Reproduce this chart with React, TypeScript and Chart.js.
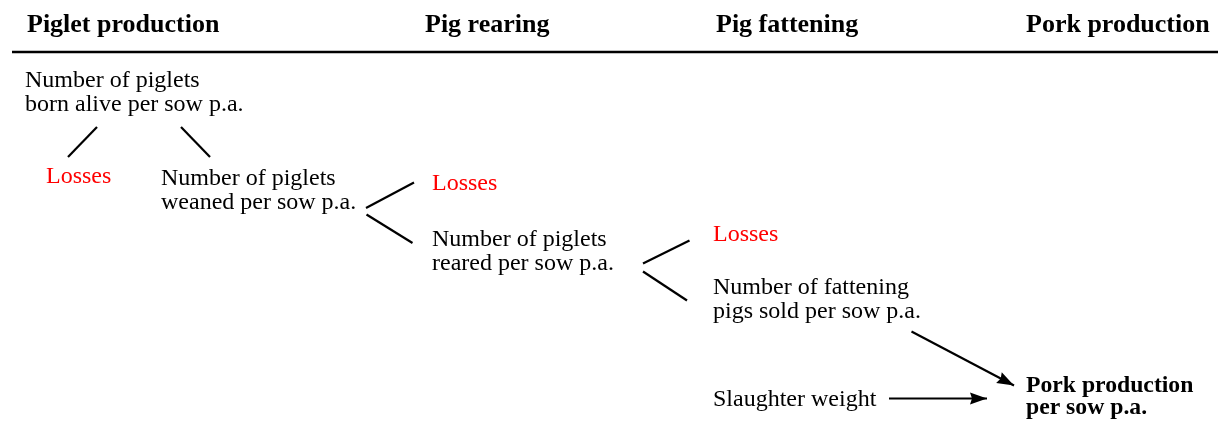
import React, { useEffect, useRef } from "react";
import { Chart, registerables } from "chart.js";

Chart.register(...registerables);

// ---- diagram data (in diagram units: x 0..1218, y 0..421 top-down) ----
const stageHeaders = ["Piglet production", "Pig rearing", "Pig fattening", "Pork production"];
const stageHeaderX = [27, 425, 716, 1026];
const stageHeaderY = 32;

const nodeTexts: string[][] = [
  ["Number of piglets", "born alive per sow p.a."],
  ["Losses"],
  ["Number of piglets", "weaned per sow p.a."],
  ["Losses"],
  ["Number of piglets", "reared per sow p.a."],
  ["Losses"],
  ["Number of fattening", "pigs sold per sow p.a."],
  ["Slaughter weight"],
  ["Pork production", "per sow p.a."],
];
const nodeKinds = ["count", "loss", "count", "loss", "count", "loss", "count", "count", "result"];
const nodeX = [25, 46, 161, 432, 432, 713, 713, 713, 1026];
const nodeY = [87, 183, 185, 190, 246, 241, 294, 406, 392];

const ruleLine = [{ x: 12, y: 52 }, { x: 1218, y: 52 }];
const branchLines = [
  [{ x: 97, y: 127 }, { x: 68, y: 157 }],
  [{ x: 181, y: 127 }, { x: 210, y: 157 }],
  [{ x: 366, y: 208 }, { x: 414, y: 182.5 }],
  [{ x: 366.5, y: 214.5 }, { x: 412.5, y: 243 }],
  [{ x: 643, y: 263.5 }, { x: 689.5, y: 240.5 }],
  [{ x: 643, y: 271.5 }, { x: 687, y: 300.5 }],
];
const arrowLines = [
  [{ x: 911.5, y: 331.5 }, { x: 1014, y: 385.5 }],
  [{ x: 889, y: 398.5 }, { x: 987, y: 398.5 }],
];

const FONT = "'Liberation Serif', 'Times New Roman', Times, serif";

const textPlugin = {
  id: "diagramText",
  afterDatasetsDraw(chart: any) {
    const { ctx, scales } = chart;
    const xs = scales.x;
    const ys = scales.y;
    ctx.save();
    ctx.textBaseline = "alphabetic";
    ctx.textAlign = "left";
    ctx.fillStyle = "#000";
    ctx.font = `bold 26px ${FONT}`;
    stageHeaders.forEach((h, i) => {
      ctx.fillText(h, xs.getPixelForValue(stageHeaderX[i]), ys.getPixelForValue(stageHeaderY));
    });
    nodeTexts.forEach((lines, i) => {
      const kind = nodeKinds[i];
      ctx.fillStyle = kind === "loss" ? "#ff0000" : "#000";
      ctx.font = kind === "result" ? `bold 23.7px ${FONT}` : `24px ${FONT}`;
      const lh = kind === "result" ? 22 : 23.5;
      lines.forEach((t, j) => {
        ctx.fillText(t, xs.getPixelForValue(nodeX[i]), ys.getPixelForValue(nodeY[i] + j * lh));
      });
    });
    ctx.restore();
  },
};

const arrowPlugin = {
  id: "arrowHeads",
  afterDatasetsDraw(chart: any) {
    const { ctx, scales } = chart;
    chart.data.datasets.forEach((ds: any) => {
      if (!ds.arrow) return;
      const d = ds.data;
      const a = d[d.length - 2];
      const b = d[d.length - 1];
      const x1 = scales.x.getPixelForValue(a.x);
      const y1 = scales.y.getPixelForValue(a.y);
      const x2 = scales.x.getPixelForValue(b.x);
      const y2 = scales.y.getPixelForValue(b.y);
      const ang = Math.atan2(y2 - y1, x2 - x1);
      const len = 17;
      const hw = 6;
      ctx.save();
      ctx.translate(x2, y2);
      ctx.rotate(ang);
      ctx.fillStyle = "#000";
      ctx.beginPath();
      ctx.moveTo(0, 0);
      ctx.lineTo(-len, -hw);
      ctx.lineTo(-len + 2, 0);
      ctx.lineTo(-len, hw);
      ctx.closePath();
      ctx.fill();
      ctx.restore();
    });
  },
};

export default function App() {
  const ref = useRef<HTMLCanvasElement>(null);
  useEffect(() => {
    if (!ref.current) return;
    const lineDs = (data: any[], width: number, arrow = false) => ({
      data,
      showLine: true,
      borderColor: "#000",
      backgroundColor: "#000",
      borderWidth: width,
      pointRadius: 0,
      pointHoverRadius: 0,
      fill: false,
      tension: 0,
      clip: false,
      arrow,
      borderCapStyle: "butt",
    });
    const chart = new Chart(ref.current, {
      type: "scatter",
      data: {
        datasets: [
          lineDs(ruleLine, 2.5),
          ...branchLines.map((l) => lineDs(l, 2.2)),
          ...arrowLines.map((l) => lineDs(l, 2.2, true)),
        ] as any,
      },
      options: {
        responsive: false,
        maintainAspectRatio: false,
        animation: false,
        devicePixelRatio: 1,
        layout: { padding: 0 },
        events: [],
        scales: {
          x: { type: "linear", min: 0, max: 1218, display: false },
          y: { type: "linear", min: 0, max: 421, reverse: true, display: false },
        },
        plugins: { legend: { display: false }, tooltip: { enabled: false } },
      },
      plugins: [arrowPlugin, textPlugin],
    });
    return () => chart.destroy();
  }, []);
  return (
    <div style={{ position: "fixed", left: 0, top: 0, width: 1218, height: 421, background: "#fff" }}>
      <canvas ref={ref} width={1218} height={421} />
    </div>
  );
}
